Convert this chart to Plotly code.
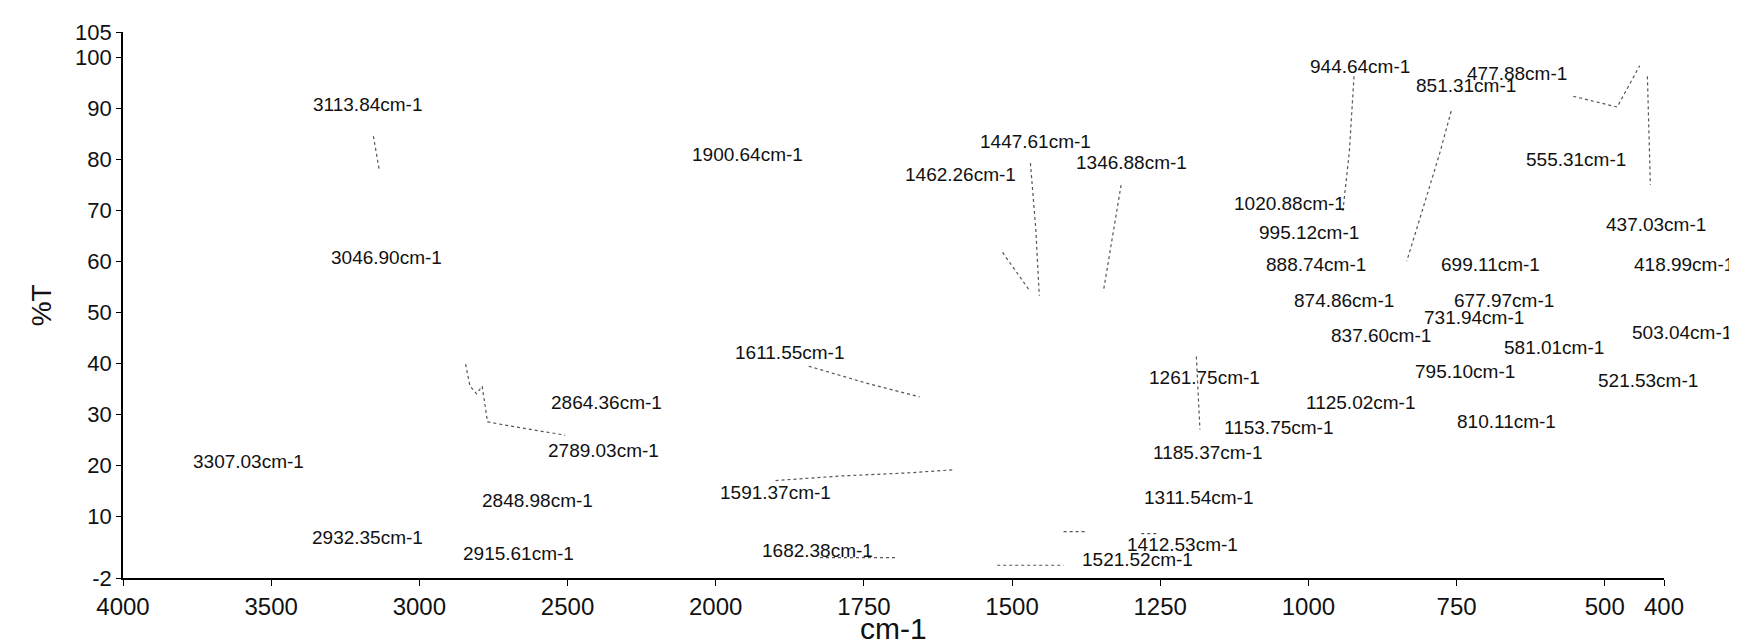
import plotly.graph_objects as go

# ---------------- data ----------------
# x tick marks (cm-1); the axis is compressed 2:1 above 2000 cm-1
x_ticks = [4000, 3500, 3000, 2500, 2000, 1750, 1500, 1250, 1000, 750, 500, 400]
y_ticks = [105, 100, 90, 80, 70, 60, 50, 40, 30, 20, 10, -2]

# peak labels and the (cm-1, %T) place where each label is printed
peak_labels = [
    "3113.84cm-1", "3046.90cm-1", "3307.03cm-1", "2864.36cm-1", "2789.03cm-1",
    "2848.98cm-1", "2932.35cm-1", "2915.61cm-1", "1900.64cm-1", "1447.61cm-1",
    "1462.26cm-1", "1346.88cm-1", "1611.55cm-1", "1591.37cm-1", "1682.38cm-1",
    "1412.53cm-1", "1521.52cm-1", "1261.75cm-1", "1311.54cm-1", "1185.37cm-1",
    "1153.75cm-1", "1125.02cm-1", "1020.88cm-1", "995.12cm-1", "944.64cm-1",
    "888.74cm-1", "874.86cm-1", "851.31cm-1", "477.88cm-1", "837.60cm-1",
    "699.11cm-1", "677.97cm-1", "731.94cm-1", "795.10cm-1", "810.11cm-1",
    "581.01cm-1", "555.31cm-1", "437.03cm-1", "418.99cm-1", "503.04cm-1",
    "521.53cm-1",
]
label_wn = [
    3364, 3304, 3771, 2564, 2571,
    2796, 3368, 2859, 2086, 1557,
    1684, 1396, 1970, 1996, 1925,
    1310, 1385, 1273, 1280, 1265,
    1146, 1007, 1129, 1086, 1000,
    1075, 1028, 822, 736, 966,
    780, 757, 809, 824, 753,
    673, 636, 501, 454, 458,
    514,
]
label_t = [
    90.7, 60.9, 20.9, 32.4, 22.9,
    13.1, 6.0, 2.85, 81.0, 83.5,
    77.1, 79.5, 42.2, 14.8, 3.3,
    4.55, 1.6, 37.3, 13.7, 22.6,
    27.5, 32.4, 71.4, 65.8, 98.2,
    59.5, 52.4, 94.6, 96.9, 45.6,
    59.5, 52.4, 49.0, 38.4, 28.6,
    43.1, 80.1, 67.3, 59.5, 46.05,
    36.7,
]

# faint fragments of the (faded) spectrum trace that remain visible
frag_wn = [3155, 3136, None,
           2844, 2829, 2807, 2788, 2770, 2695, 2508, None,
           1843, 1749, 1656, None,
           1899, 1787, 1675, 1600, None,
           1469, 1460, 1454, None,
           1516, 1469, None,
           1316, 1338, 1346, None,
           923, 931, 942, None,
           759, 778, 806, 834, None,
           553, 479, 441, None,
           428, 423, None,
           1189, 1183, None,
           1824, 1693, None,
           1525, 1413, None,
           1413, 1376, None,
           1282, 1254]
frag_t = [84.6, 78.2, None,
          39.9, 35.6, 34.1, 35.6, 28.6, 27.8, 26.0, None,
          39.5, 36.3, 33.5, None,
          17.1, 18.0, 18.6, 19.2, None,
          79.3, 66.5, 53.3, None,
          61.8, 54.1, None,
          75.0, 60.1, 54.1, None,
          96.3, 81.4, 69.7, None,
          89.5, 81.4, 70.7, 60.1, None,
          92.4, 90.3, 98.4, None,
          96.3, 75.0, None,
          41.4, 27.1, None,
          2.0, 2.0, None,
          0.5, 0.5, None,
          7.1, 7.1, None,
          6.7, 6.7]


def axis_pos(w):
    """Map a wavenumber to the axis coordinate (2:1 compression above 2000)."""
    if w is None:
        return None
    return w if w <= 2000 else 2000 + (w - 2000) / 2


FONT = "Liberation Sans, Arial, sans-serif"

fig = go.Figure()
fig.add_trace(go.Scatter(
    x=[axis_pos(w) for w in frag_wn], y=frag_t, mode="lines",
    line=dict(color="#555555", width=1.2, dash="dot"),
    connectgaps=False, hoverinfo="skip", showlegend=False,
))

for txt, w, t in zip(peak_labels, label_wn, label_t):
    fig.add_annotation(
        x=axis_pos(w), y=t, xref="x", yref="y", text=txt, showarrow=False,
        xanchor="left", yanchor="middle",
        font=dict(family=FONT, size=19, color="#111111"),
    )

fig.add_annotation(x=0.5, y=-0.093, xref="paper", yref="paper", text="cm-1",
                   showarrow=False, xanchor="center", yanchor="middle",
                   font=dict(family=FONT, size=30, color="#111111"))
fig.add_annotation(x=-0.053, y=0.5, xref="paper", yref="paper", text="%T",
                   showarrow=False, xanchor="center", yanchor="middle",
                   textangle=-90,
                   font=dict(family=FONT, size=28, color="#111111"))

# the page body adds an 8px offset, so the figure is 8px smaller than the window
fig.update_layout(
    width=1729, height=636,
    margin=dict(l=115, r=73, t=13, b=66),
    paper_bgcolor="white", plot_bgcolor="white",
    showlegend=False,
    xaxis=dict(
        range=[axis_pos(4000), axis_pos(400)],
        tickmode="array",
        tickvals=[axis_pos(v) for v in x_ticks],
        ticktext=[str(v) for v in x_ticks],
        ticks="outside", ticklen=6, tickwidth=1.2, tickcolor="black",
        showline=True, linecolor="black", linewidth=1.6,
        showgrid=False, zeroline=False,
        tickfont=dict(family=FONT, size=24, color="#111111"),
    ),
    yaxis=dict(
        range=[-2, 105],
        tickmode="array",
        tickvals=y_ticks,
        ticktext=[str(v) for v in y_ticks],
        ticks="outside", ticklen=5, tickwidth=1.2, tickcolor="black",
        showline=True, linecolor="black", linewidth=1.6,
        showgrid=False, zeroline=False,
        tickfont=dict(family=FONT, size=22, color="#111111"),
    ),
)

fig.write_html("out.html")
